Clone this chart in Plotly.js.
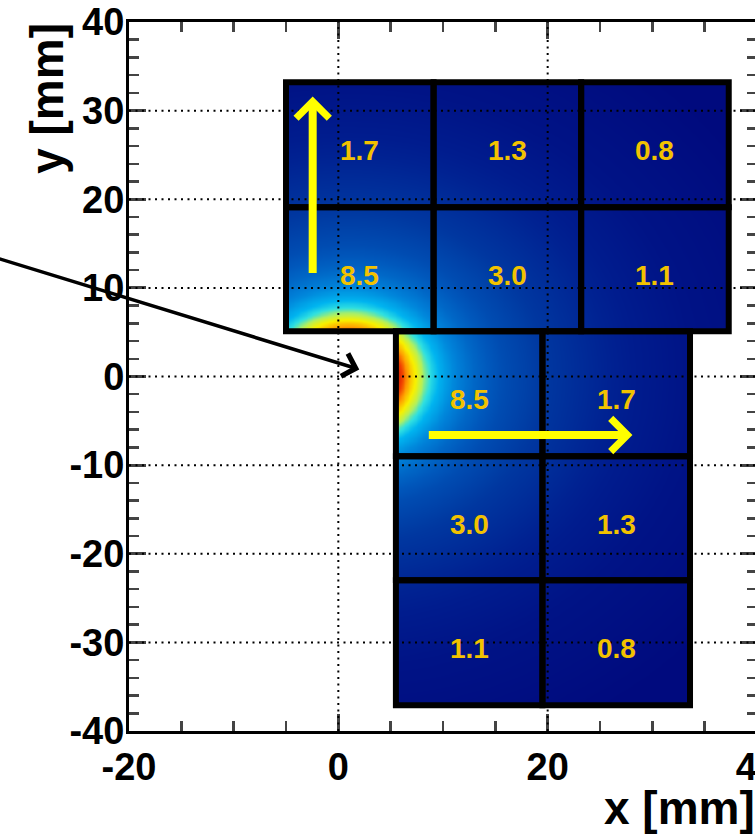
<!DOCTYPE html>
<html><head><meta charset="utf-8">
<script src="https://cdn.plot.ly/plotly-3.0.1.min.js"></script>
<style>html,body{margin:0;padding:0;overflow:hidden;background:#fff}#chart{width:770px;height:838px}</style>
</head><body><div id="chart"></div>
<script>
// ---- data ----
const upperEdgesX = [-5, 9.1, 23.2, 37.3];
const upperEdgesY = [5.1, 19.1, 33.2];
const upperValues = [[8.5, 3.0, 1.1], [1.7, 1.3, 0.8]];      // rows bottom -> top
const lowerEdgesX = [5.5, 19.5, 33.6];
const lowerEdgesY = [-37.1, -23.0, -9.0, 5.1];
const lowerValues = [[1.1, 0.8], [3.0, 1.3], [8.5, 1.7]];      // rows bottom -> top
const sourcePoint = [0.9, 0];
const profileDist  = [4.4, 5.0, 5.6, 6.2, 6.8, 7.6, 8.6, 10, 12, 15, 19, 25, 33, 45];
const profileLevel = [1.0, 0.92, 0.83, 0.76, 0.7, 0.6, 0.5, 0.42, 0.34, 0.26, 0.19, 0.12, 0.05, 0.0];
const xTickVals = [-20, 0, 20, 40];
const yTickVals = [-40, -30, -20, -10, 0, 10, 20, 30, 40];
const gridX = [0, 20];
const gridY = [-30, -20, -10, 0, 10, 20, 30];
const yellowArrowTail = [[-2.45, 11.5], [8.5, -6.6]];
const yellowArrowTip  = [[-2.45, 31.6], [28.1, -6.6]];
const blackArrowTail = [-33, 13.5];
const blackArrowTip  = [2.0, 0.8];

// ---- helpers ----
function levelAt(d) {
  if (d <= profileDist[0]) return profileLevel[0];
  for (let i = 1; i < profileDist.length; i++) {
    if (d <= profileDist[i]) {
      const t = (d - profileDist[i-1]) / (profileDist[i] - profileDist[i-1]);
      return profileLevel[i-1] + t * (profileLevel[i] - profileLevel[i-1]);
    }
  }
  return profileLevel[profileLevel.length - 1];
}
function field(ex, ey) {
  const step = 0.25;
  const xs = [], ys = [];
  for (let x = ex[0] + step/2; x < ex[ex.length-1]; x += step) xs.push(x);
  for (let y = ey[0] + step/2; y < ey[ey.length-1]; y += step) ys.push(y);
  const z = ys.map(y => xs.map(x => levelAt(Math.hypot(x - sourcePoint[0], y - sourcePoint[1]))));
  return {xs, ys, z};
}
const colorscale = [
  [0.00, '#000a7e'], [0.10, '#001c8e'], [0.20, '#003aa2'], [0.30, '#0058bc'],
  [0.40, '#0080d8'], [0.50, '#00b4f0'], [0.58, '#30e0e0'], [0.66, '#b0f060'],
  [0.74, '#f8f000'], [0.82, '#ffa000'], [0.90, '#f04000'], [1.00, '#c80000']
];
function heat(ex, ey) {
  const f = field(ex, ey);
  return {type: 'heatmap', x: f.xs, y: f.ys, z: f.z, zmin: 0, zmax: 1,
          colorscale: colorscale, showscale: false, zsmooth: 'best', hoverinfo: 'skip'};
}
const labelFont = {family: 'Liberation Sans, Arial, sans-serif', size: 28, color: '#f2c200', weight: 'bold'};
const annotations = [];
function labels(ex, ey, vals) {
  vals.forEach((row, r) => row.forEach((v, c) => {
    annotations.push({xref: 'x', yref: 'y', x: (ex[c] + ex[c+1]) / 2, y: (ey[r] + ey[r+1]) / 2,
      text: v.toFixed(1), showarrow: false, font: labelFont, xanchor: 'center', yanchor: 'middle', yshift: -6});
  }));
}
labels(upperEdgesX, upperEdgesY, upperValues);
labels(lowerEdgesX, lowerEdgesY, lowerValues);

const shapes = [];
gridX.forEach(g => shapes.push({type: 'line', xref: 'x', yref: 'y', x0: g, x1: g, y0: -40, y1: 40,
  line: {color: '#000', width: 2, dash: '2px,4.5px'}, layer: 'above'}));
gridY.forEach(g => shapes.push({type: 'line', xref: 'x', yref: 'y', x0: -20, x1: 40, y0: g, y1: g,
  line: {color: '#000', width: 2, dash: '2px,4.5px'}, layer: 'above'}));
function tileRects(ex, ey) {
  for (let r = 0; r < ey.length - 1; r++)
    for (let c = 0; c < ex.length - 1; c++)
      shapes.push({type: 'rect', xref: 'x', yref: 'y', x0: ex[c], x1: ex[c+1], y0: ey[r], y1: ey[r+1],
        line: {color: '#000', width: 6}, fillcolor: 'rgba(0,0,0,0)', layer: 'above'});
}
tileRects(upperEdgesX, upperEdgesY);
tileRects(lowerEdgesX, lowerEdgesY);

yellowArrowTail.forEach((tail, i) => annotations.push({
  x: yellowArrowTip[i][0], y: yellowArrowTip[i][1], ax: tail[0], ay: tail[1],
  xref: 'x', yref: 'y', axref: 'x', ayref: 'y', text: '', showarrow: true,
  arrowhead: 4, arrowsize: 0.8, arrowwidth: 8, arrowcolor: '#ffff00', standoff: 0, startstandoff: 0}));
annotations.push({
  x: blackArrowTip[0], y: blackArrowTip[1], ax: blackArrowTail[0], ay: blackArrowTail[1],
  xref: 'x', yref: 'y', axref: 'x', ayref: 'y', text: '', showarrow: true,
  arrowhead: 4, arrowsize: 1.3, arrowwidth: 3.5, arrowcolor: '#000', standoff: 0, startstandoff: 0});
const titleFont = {family: 'Liberation Sans, Arial, sans-serif', size: 46, color: '#000', weight: 'bold'};
annotations.push({xref: 'paper', yref: 'paper', x: -0.1306, y: 0.893, text: 'y [mm]', textangle: -90,
  showarrow: false, xanchor: 'center', yanchor: 'middle', font: titleFont});
annotations.push({xref: 'paper', yref: 'paper', x: 1.0, y: -0.109, text: 'x [mm]',
  showarrow: false, xanchor: 'right', yanchor: 'middle', font: titleFont});

const tickFont = {family: 'Liberation Sans, Arial, sans-serif', size: 38, color: '#000', weight: 'bold'};
const layout = {
  width: 770, height: 838,
  margin: {l: 129, r: 13, t: 22, b: 107},
  paper_bgcolor: '#fff', plot_bgcolor: '#fff',
  showlegend: false,
  xaxis: {range: [-20, 40], tickvals: xTickVals, ticktext: xTickVals.map(String), ticks: 'inside', ticklen: 17, tickwidth: 3,
    minor: {dtick: 5, tick0: 0, ticks: 'inside', ticklen: 10, tickwidth: 2.5, showgrid: false},
    showline: true, linewidth: 3, linecolor: '#000', mirror: 'allticks', showgrid: false, zeroline: false,
    tickfont: tickFont, layer: 'above traces', fixedrange: true, ticklabeloverflow: 'allow'},
  yaxis: {range: [-40, 40], tickvals: yTickVals, ticktext: yTickVals.map(String), ticks: 'inside', ticklen: 17, tickwidth: 3,
    minor: {dtick: 2, tick0: 0, ticks: 'inside', ticklen: 10, tickwidth: 2.5, showgrid: false},
    showline: true, linewidth: 3, linecolor: '#000', mirror: 'allticks', showgrid: false, zeroline: false,
    tickfont: tickFont, layer: 'above traces', fixedrange: true, ticklabelstandoff: -6, ticklabeloverflow: 'allow'},
  shapes, annotations
};
const data = [heat(upperEdgesX, upperEdgesY), heat(lowerEdgesX, lowerEdgesY)];
Plotly.newPlot('chart', data, layout, {staticPlot: true, displayModeBar: false});
</script></body></html>
